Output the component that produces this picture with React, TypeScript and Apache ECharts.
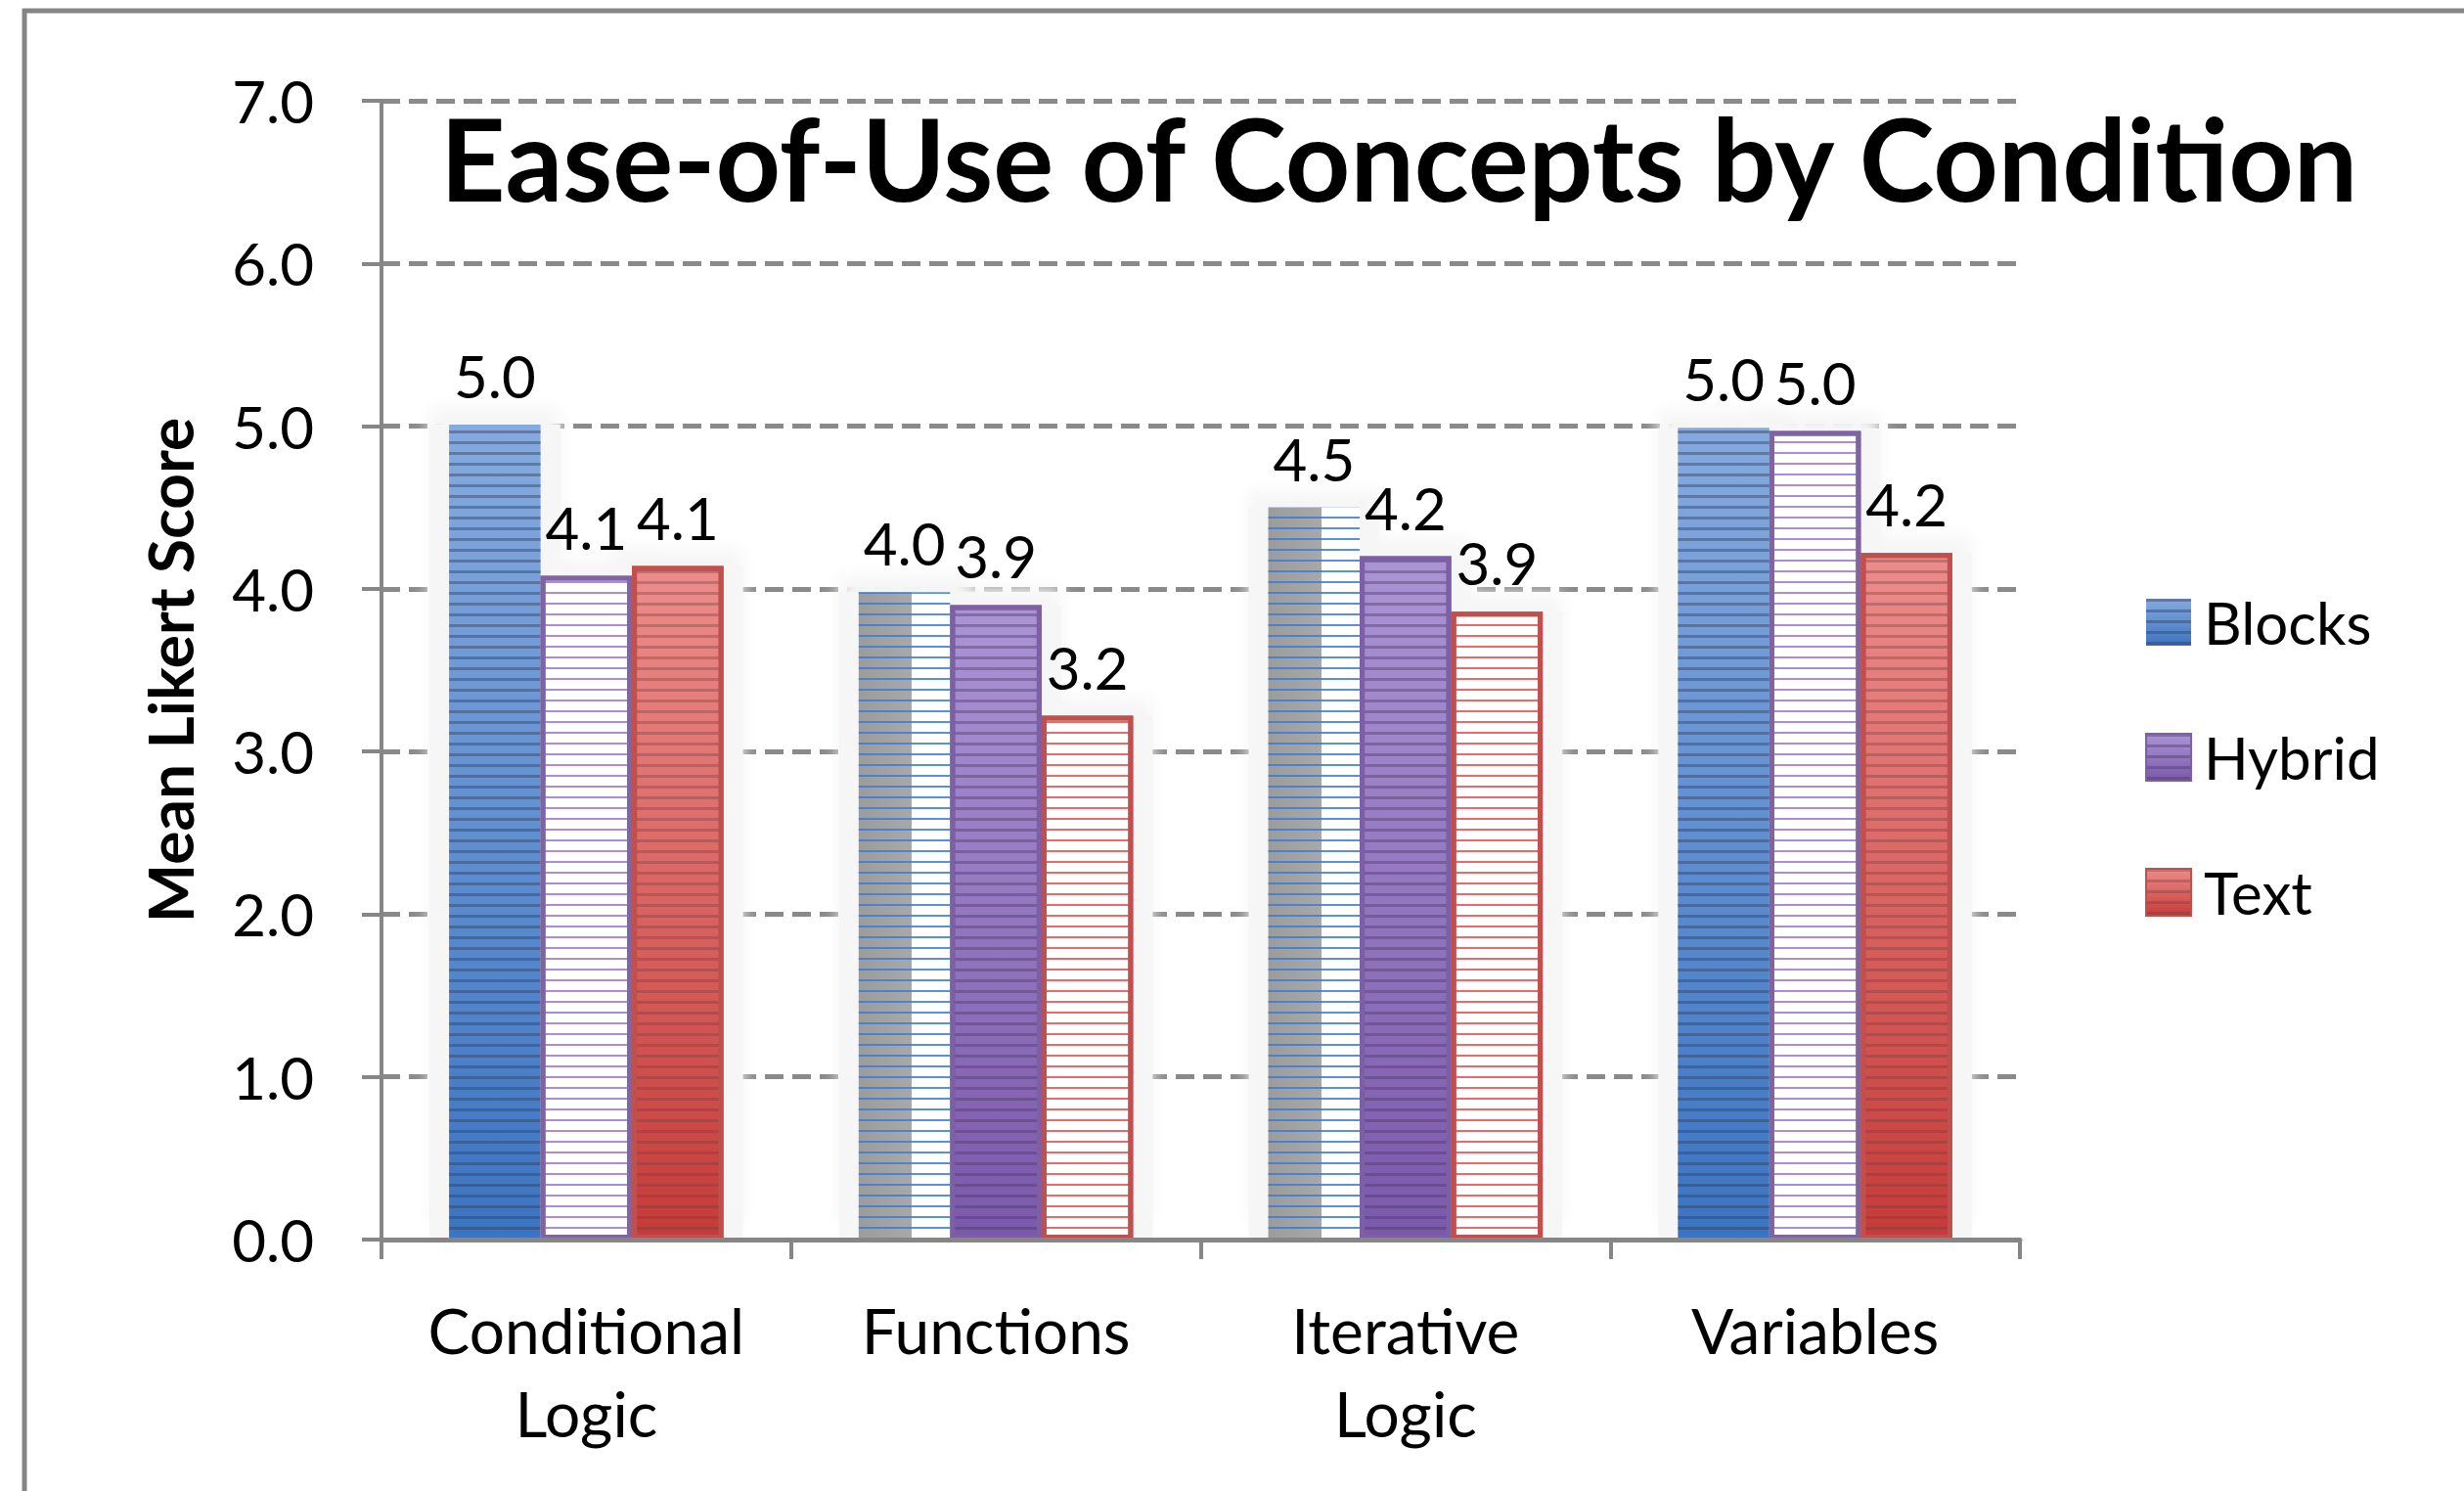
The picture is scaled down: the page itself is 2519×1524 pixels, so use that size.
import React, { useEffect, useRef } from 'react';
import * as echarts from 'echarts';

// ---- data ----
const categories = ['Conditional\nLogic', 'Functions', 'Iterative\nLogic', 'Variables'];
const seriesNames = ['Blocks', 'Hybrid', 'Text'];
const blocksValues = [5.01, 3.98, 4.5, 4.99];
const hybridValues = [4.08, 3.9, 4.2, 4.97];
const textValues = [4.14, 3.22, 3.86, 4.22];
const yMin = 0;
const yMax = 7;
const yStep = 1;
// fill kind of each bar as seen in the picture
const blocksKinds = ['filled', 'light', 'light', 'filled'];
const hybridKinds = ['light', 'filled', 'filled', 'light'];
const textKinds = ['filled', 'light', 'light', 'filled'];

const FONT = 'Lato';
const GRAY = '#868686';
const CHART_W = 2519;
const CHART_H = 1524;
const GRID = { left: 390, right: 454, top: 103, bottom: 257, containLabel: false };

// bar layout: main bars and the soft box ("halo") behind each bar
const CAT_GAP = 0.33;
const HALO_PAD = 40; // extra px of halo width per bar
const bandW = (CHART_W - GRID.left - GRID.right) / categories.length;
const barW = (bandW * (1 - CAT_GAP)) / seriesNames.length;
const haloW = barW + HALO_PAD;
const haloGroup = seriesNames.length * haloW - (seriesNames.length - 1) * HALO_PAD;
const haloBarGap = `${(-HALO_PAD / haloW) * 100}%`;
const haloCatGap = `${((bandW - haloGroup) / bandW) * 100}%`;

const vGrad = (top: string, bottom: string) => ({
  type: 'linear', x: 0, y: 0, x2: 0, y2: 1,
  colorStops: [{ offset: 0, color: top }, { offset: 1, color: bottom }],
});

const stripes = (color: string, thick: number) => ({
  symbol: 'rect',
  symbolSize: 1,
  symbolKeepAspect: false,
  color,
  dashArrayX: [1, 0],
  dashArrayY: [thick, 11 - thick],
  rotation: 0,
});

const styles: Record<string, Record<string, any>> = {
  Blocks: {
    filled: () => ({
      color: vGrad('#86aadf', '#3b74c2'),
      borderWidth: 0,
      decal: stripes('rgba(50,65,95,0.45)', 3),
    }),
    light: () => ({
      color: {
        type: 'linear', x: 0, y: 0, x2: 1, y2: 0,
        colorStops: [
          { offset: 0, color: '#9c9c9c' },
          { offset: 0.58, color: '#a8a8a8' },
          { offset: 0.58, color: '#ffffff' },
          { offset: 1, color: '#ffffff' },
        ],
      },
      borderWidth: 0,
      decal: stripes('rgba(60,125,215,0.85)', 2),
    }),
  },
  Hybrid: {
    filled: () => ({
      color: vGrad('#ab94d4', '#7b58ab'),
      borderColor: '#7d5fa6',
      borderWidth: 5,
      decal: stripes('rgba(70,55,100,0.4)', 3),
    }),
    light: () => ({
      color: '#ffffff',
      borderColor: '#8064a2',
      borderWidth: 5,
      decal: stripes('rgba(150,110,210,0.8)', 2),
    }),
  },
  Text: {
    filled: () => ({
      color: vGrad('#ec8d8b', '#c63b39'),
      borderColor: '#c0504d',
      borderWidth: 5,
      decal: stripes('rgba(110,60,60,0.35)', 3),
    }),
    light: () => ({
      color: '#ffffff',
      borderColor: '#c0504d',
      borderWidth: 5,
      decal: stripes('rgba(230,80,80,0.85)', 2),
    }),
  },
};

const seriesData: Record<string, { values: number[]; kinds: string[] }> = {
  Blocks: { values: blocksValues, kinds: blocksKinds },
  Hybrid: { values: hybridValues, kinds: hybridKinds },
  Text: { values: textValues, kinds: textKinds },
};

export default function App() {
  const ref = useRef<HTMLDivElement>(null);

  useEffect(() => {
    if (!ref.current) return;
    const chart = echarts.init(ref.current, null, { renderer: 'svg' });

    // soft light box behind each bar (drawn in a twin grid below the main one)
    const haloSeries = seriesNames.map((name) => ({
      name: name + ' halo',
      type: 'bar',
      xAxisIndex: 1,
      yAxisIndex: 1,
      data: seriesData[name].values,
      barGap: haloBarGap,
      barCategoryGap: haloCatGap,
      z: 1,
      silent: true,
      itemStyle: {
        color: '#f6f6f6',
        shadowBlur: 16,
        shadowOffsetY: -18,
        shadowColor: '#f6f6f6',
      },
      label: { show: false },
      emphasis: { disabled: true },
    }));

    const mainSeries = seriesNames.map((name) => ({
      name,
      type: 'bar',
      xAxisIndex: 0,
      yAxisIndex: 0,
      data: seriesData[name].values.map((v, i) => ({
        value: v,
        itemStyle: styles[name][seriesData[name].kinds[i]](),
      })),
      barGap: '0%',
      barCategoryGap: `${CAT_GAP * 100}%`,
      z: 2,
      itemStyle: styles[name].filled(),
      label: {
        show: true,
        position: 'top',
        distance: 20,
        formatter: (p: any) => Number(p.value).toFixed(1),
        fontFamily: FONT,
        fontSize: 60,
        color: '#000',
      },
      emphasis: { disabled: true },
    }));

    chart.setOption({
      animation: false,
      backgroundColor: '#ffffff',
      title: {
        text: 'Ease-of-Use of Concepts by Condition',
        left: 450,
        top: 103,
        padding: 0,
        textStyle: { fontFamily: FONT, fontWeight: 'bold', fontSize: 116, color: '#000' },
      },
      legend: {
        orient: 'vertical',
        left: 2193,
        top: 606,
        padding: 0,
        itemWidth: 46,
        itemHeight: 48,
        itemGap: 78,
        icon: 'rect',
        selectedMode: false,
        data: seriesNames,
        textStyle: { fontFamily: FONT, fontSize: 60, color: '#000', padding: [0, 0, 0, 8] },
      },
      grid: [{ ...GRID }, { ...GRID }],
      xAxis: [
        {
          type: 'category',
          gridIndex: 0,
          data: categories,
          z: 3,
          axisLine: { show: true, lineStyle: { color: GRAY, width: 5 } },
          axisTick: { show: true, length: 20, lineStyle: { color: GRAY, width: 4 } },
          axisLabel: {
            interval: 0,
            fontFamily: FONT,
            fontSize: 64,
            lineHeight: 85,
            color: '#000',
            margin: 50,
          },
          splitLine: { show: false },
        },
        {
          type: 'category',
          gridIndex: 1,
          data: categories,
          axisLine: { show: false },
          axisTick: { show: false },
          axisLabel: { show: false },
          splitLine: { show: false },
        },
      ],
      yAxis: [
        {
          type: 'value',
          gridIndex: 0,
          min: yMin,
          max: yMax,
          interval: yStep,
          z: 0,
          name: 'Mean Likert Score',
          nameLocation: 'middle',
          nameGap: 185,
          nameTextStyle: { fontFamily: FONT, fontWeight: 'bold', fontSize: 64, color: '#000' },
          axisLine: { show: true, lineStyle: { color: GRAY, width: 4 } },
          axisTick: { show: true, length: 20, lineStyle: { color: GRAY, width: 4 } },
          axisLabel: {
            formatter: (v: number) => v.toFixed(1),
            fontFamily: FONT,
            fontSize: 60,
            color: '#000',
            margin: 69,
            padding: [10, 0, 0, 0],
          },
          splitLine: { show: true, lineStyle: { color: '#8a8a8a', width: 5, type: [19, 9] } },
        },
        {
          type: 'value',
          gridIndex: 1,
          min: yMin,
          max: yMax,
          interval: yStep,
          axisLine: { show: false },
          axisTick: { show: false },
          axisLabel: { show: false },
          splitLine: { show: false },
        },
      ],
      graphic: [
        { type: 'line', shape: { x1: 25, y1: 9, x2: 25, y2: 1524 }, style: { stroke: '#858585', lineWidth: 5 }, silent: true },
        { type: 'line', shape: { x1: 23, y1: 11, x2: 2519, y2: 11 }, style: { stroke: '#858585', lineWidth: 5 }, silent: true },
      ],
      series: [...haloSeries, ...mainSeries],
    });

    return () => chart.dispose();
  }, []);

  return (
    <div
      ref={ref}
      style={{ position: 'absolute', left: 0, top: 0, width: CHART_W, height: CHART_H, background: '#fff' }}
    />
  );
}
